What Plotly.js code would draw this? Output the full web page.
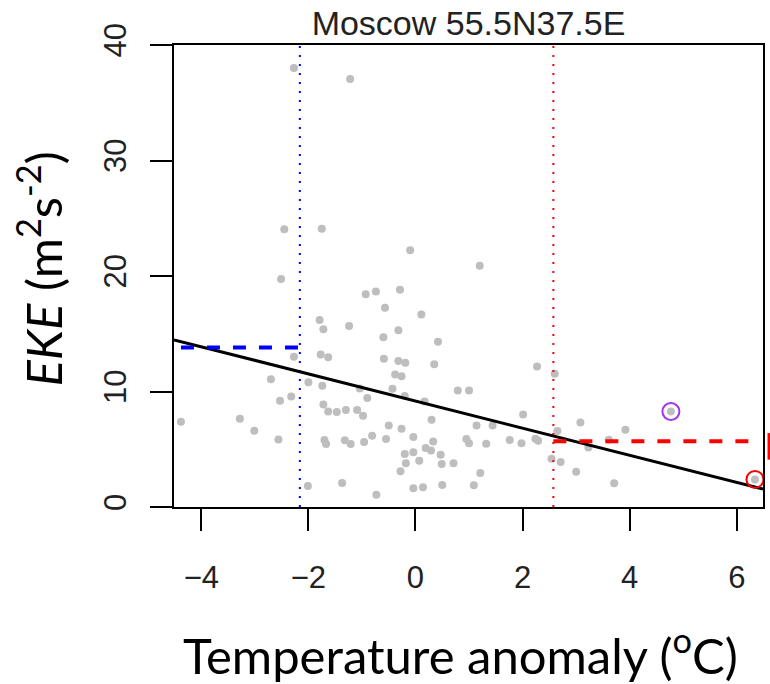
<!DOCTYPE html>
<html>
<head>
<meta charset="utf-8">
<script src="https://cdn.plot.ly/plotly-3.0.1.min.js"></script>
<style>html,body{margin:0;padding:0;background:#fff;}#chart{width:770px;height:684px;}</style>
</head>
<body>
<div id="chart"></div>
<script>
// Scatter data: temperature anomaly (°C) vs EKE (m2 s-2)
var tempAnomaly = [
  -2.27, -1.22, -2.45, -1.75, -0.10, -2.51, 1.20,
  -1.79, -1.72, -2.27, -1.77, -2.70, -2.00, -1.74, -2.32, -2.53, -1.72,
  -4.38, -3.28, -3.01, -2.56, -1.70, -2.01,
  -0.93, -0.74, -0.29, -0.57, 0.11, -1.24, -0.32, -0.60, 0.42,
  -1.63, -0.59, -0.32, -0.19, 0.35, -0.38, -0.26, -0.43, -1.04, -0.90,
  -1.63, -1.47, -1.30, -1.09, -0.98, 0.30, -0.50, -0.26,
  -1.67, -1.32, -1.21, -0.96, -0.81, -0.55, -0.04, 0.33, 0.19, 0.29, 0.47,
  -0.20, -0.04, -0.18, 0.07, 0.49, -0.28, -1.37, -0.73, -0.04, 0.14, 0.50,
  -0.20, 0.17,
  0.79, 1.00, 2.27, 2.60, 2.01, 1.14, 1.44, 2.65, 0.95, 1.00, 1.32, 1.76,
  1.98, 2.24, 2.29, 2.71, 2.54, 0.71, 1.21, 1.09,
  3.08, 3.92, 3.61, 3.23, 3.00, 3.71, 4.77, 6.34
];
var eke = [
  38.0, 37.05, 24.04, 24.09, 22.22, 19.75, 20.89,
  16.2, 15.4, 13.0, 13.2, 11.07, 10.81, 10.5, 9.57, 9.2, 8.88,
  7.38, 7.64, 6.6, 5.85, 5.8, 1.82,
  18.42, 18.65, 18.82, 17.26, 16.66, 15.68, 15.31, 14.70, 14.30,
  12.97, 12.83, 12.65, 12.48, 12.37, 11.47, 11.33, 10.23, 10.25, 9.43,
  8.27, 8.22, 8.39, 8.39, 7.90, 7.55, 7.06, 6.78,
  5.45, 5.77, 5.45, 5.63, 6.17, 5.88, 6.06, 5.68, 5.11, 4.90, 4.53,
  4.59, 4.73, 3.78, 4.01, 3.73, 3.09, 2.08, 1.05, 1.62, 1.70, 1.91,
  9.6, 9.14,
  10.09, 10.09, 12.16, 11.53, 8.01, 7.06, 7.06, 6.58, 5.89, 5.51, 5.48, 5.80,
  5.51, 5.91, 5.74, 3.90, 4.18, 3.78, 2.95, 1.88,
  7.32, 6.69, 5.83, 5.16, 3.06, 2.05, 8.27, 2.39
];

// Highlighted years
var highlightPurpleX = [4.77], highlightPurpleY = [8.27];
var highlightRedX = [6.34], highlightRedY = [2.39];

// Regression line endpoints (across full axis range)
var fitX = [-4.51, 6.49];
var fitY = [14.47, 1.56];

// Thresholds and conditional means
var coldThreshold = -2.16, warmThreshold = 2.575;
var coldMeanX = [-4.38, -2.16], coldMeanY = [13.8, 13.8];
var warmMeanX = [2.575, 6.34], warmMeanY = [5.7, 5.7];
var yLimits = [0, 40];
var warmSpreadY = [4.1, 6.4];

var xTicks = [-4, -2, 0, 2, 4, 6];
var yTicks = [0, 10, 20, 30, 40];

var traces = [
  {x: tempAnomaly, y: eke, mode: 'markers', type: 'scatter',
   marker: {color: '#bebebe', size: 8}, hoverinfo: 'x+y'},
  {x: [coldThreshold, coldThreshold], y: yLimits, mode: 'lines',
   line: {color: '#0000ff', width: 2, dash: '2px,7px'}},
  {x: [warmThreshold, warmThreshold], y: yLimits, mode: 'lines',
   line: {color: '#ff0000', width: 2, dash: '2px,7px'}},
  {x: fitX, y: fitY, mode: 'lines', line: {color: '#000000', width: 3}},
  {x: coldMeanX, y: coldMeanY, mode: 'lines',
   line: {color: '#0000ff', width: 4, dash: '13px,13px'}},
  {x: warmMeanX, y: warmMeanY, mode: 'lines',
   line: {color: '#ff0000', width: 4, dash: '13px,13px'}},
  {x: highlightPurpleX, y: highlightPurpleY, mode: 'markers',
   marker: {symbol: 'circle-open', size: 17, color: '#a035f0', line: {width: 2, color: '#a035f0'}}},
  {x: highlightRedX, y: highlightRedY, mode: 'markers',
   marker: {symbol: 'circle-open', size: 17, color: '#ff0000', line: {width: 2, color: '#ff0000'}}}
];

var axisCommon = {
  showline: true, mirror: true, linecolor: '#000', linewidth: 2,
  ticks: 'outside', ticklen: 22, tickwidth: 2, tickcolor: '#000',
  showgrid: false, zeroline: false,
  tickfont: {family: 'Liberation Sans, Arial, sans-serif', size: 31, color: '#222'}
};

var layout = {
  width: 770, height: 684,
  margin: {l: 174, r: 7, t: 45, b: 177},
  paper_bgcolor: '#fff', plot_bgcolor: '#fff',
  showlegend: false,
  title: {text: 'Moscow 55.5N37.5E', x: 0.5, xref: 'paper', y: 1 - 23/684, yanchor: 'middle',
          font: {family: 'Liberation Sans, Arial, sans-serif', size: 34, color: '#222'}},
  xaxis: Object.assign({}, axisCommon, {range: [-4.51, 6.49], tickvals: xTicks,
          ticktext: xTicks.map(function(v){return v < 0 ? '\u2212' + Math.abs(v) : String(v);}),
          ticklabelstandoff: 20}),
  yaxis: Object.assign({}, axisCommon, {range: yLimits, tickvals: yTicks, tickangle: -90,
          ticklabelstandoff: 12}),
  shapes: [
    {type: 'line', xref: 'paper', yref: 'y', x0: 1.0102, x1: 1.0102,
     y0: warmSpreadY[0], y1: warmSpreadY[1], line: {color: '#ff0000', width: 3}}
  ],
  annotations: [
    {text: '<i>EKE</i> (m<sup>2</sup>s<sup>-2</sup>)', xref: 'paper', yref: 'paper',
     x: (40 - 174) / 589, y: (507.4 - 270) / 462, textangle: -90, showarrow: false,
     xanchor: 'center', yanchor: 'middle',
     font: {family: 'Lato, Open Sans, sans-serif', size: 49, color: '#000'}},
    {text: 'Temperature anomaly (<sup>o</sup>C)', xref: 'paper', yref: 'paper',
     x: (460 - 174) / 589, y: (507.4 - 652) / 462, showarrow: false,
     xanchor: 'center', yanchor: 'middle',
     font: {family: 'Lato, Open Sans, sans-serif', size: 49, color: '#000'}}
  ]
};

Plotly.newPlot('chart', traces, layout, {displayModeBar: false, staticPlot: true});
</script>
</body>
</html>
